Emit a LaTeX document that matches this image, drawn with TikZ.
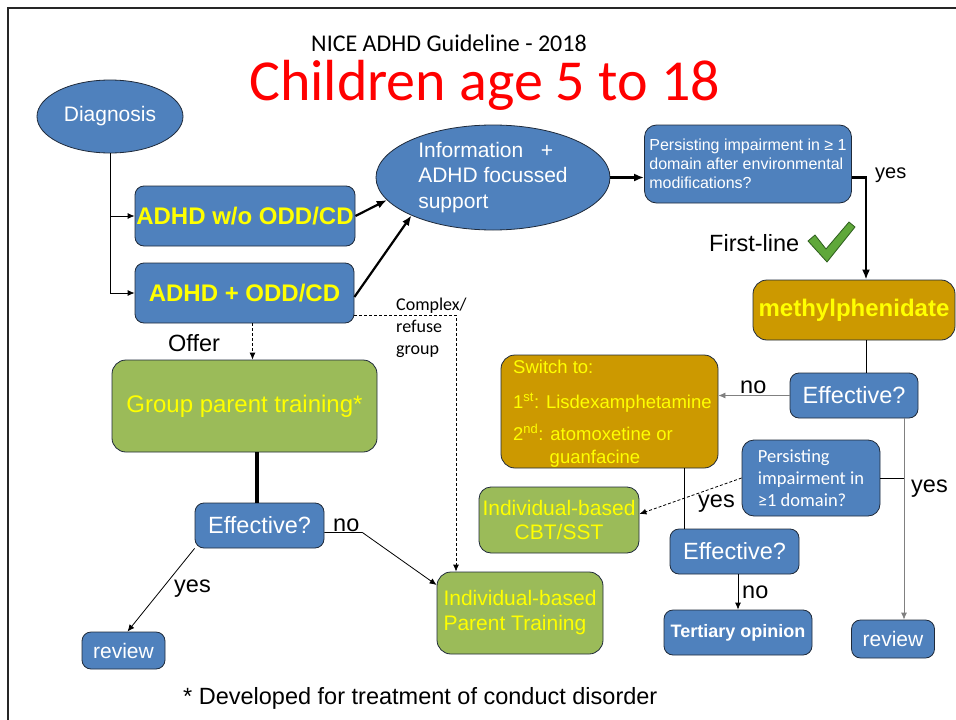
\documentclass[tikz,border=0pt]{standalone}
\usepackage{fontspec}
\setmainfont{Liberation Sans}
\newfontfamily\calibri{Carlito}
\usetikzlibrary{arrows.meta,shapes.geometric}

\definecolor{boxblue}{HTML}{4F81BD}
\definecolor{boxgreen}{HTML}{9BBB59}
\definecolor{boxgold}{HTML}{CC9900}
\definecolor{txtyellow}{HTML}{FFFF00}
\definecolor{edgedark}{HTML}{1F2A3A}
\definecolor{chkgreen}{HTML}{5FA83A}
\definecolor{chkdark}{HTML}{2E5E1E}

\begin{document}
\begin{tikzpicture}[
    x=1pt, y=-1pt, % one unit = one pixel of the slide, y downwards
    >={Latex[length=7pt,width=6pt]}, % default arrow tip
    card/.style={draw=edgedark, line width=0.8pt, rounded corners=9pt, inner sep=0pt},
    bluebox/.style={card, fill=boxblue, text=white},
    greenbox/.style={card, fill=boxgreen, text=txtyellow, rounded corners=14pt},
    goldbox/.style={card, fill=boxgold, text=txtyellow, rounded corners=14pt},
    oval/.style={ellipse, draw=edgedark, line width=0.8pt, fill=boxblue, text=white, inner sep=0pt},
    lbl/.style={anchor=base west, inner sep=0pt, font=\fontsize{23.5}{28}\selectfont},
    link/.style={line width=0.8pt},
    boldlink/.style={line width=2.2pt, >={Latex[length=10pt,width=8pt]}},
    dashlink/.style={line width=0.8pt, dash pattern=on 3pt off 2pt}
]
    \useasboundingbox (0,0) rectangle (956,720);

    % Slide frame
    \draw[line width=2pt, black!85] (8,720) -- (8,8) -- (956,8);

    % Titles
    \node[anchor=base, inner sep=0pt, font=\calibri\fontsize{24}{28}\selectfont] (guide) at (449,51) {NICE ADHD Guideline - 2018};
    \node[anchor=base, inner sep=0pt, text=red, font=\calibri\fontsize{58}{64}\selectfont] (title) at (484.5,100) {Children age 5 to 18};

    % Diagnosis and the two groups
    \node[oval, minimum width=146, minimum height=73, font=\fontsize{21}{25}\selectfont] (diag) at (110,116.5) {Diagnosis};
    \node[bluebox, minimum width=220, minimum height=60, text=txtyellow, font=\bfseries\fontsize{24}{28}\selectfont] (wo) at (245,216) {ADHD w/o ODD/CD};
    \node[bluebox, minimum width=219, minimum height=60, text=txtyellow, font=\bfseries\fontsize{24}{28}\selectfont] (wodd) at (244.5,293) {\raisebox{-5pt}{ADHD + ODD/CD}};

    % Information and first question
    \node[oval, minimum width=234, minimum height=105, align=left, font=\fontsize{21}{25.5}\selectfont] (info) at (493,177.5) {Information\ \ \ +\\ADHD focussed\\support};
    \node[bluebox, rounded corners=12pt, minimum width=207, minimum height=78, align=left, font=\fontsize{16}{19}\selectfont] (pers) at (748,164) {Persisting impairment in ≥ 1\\domain after environmental\\modifications?};
    \node[lbl, font=\fontsize{20}{24}\selectfont] (yes1) at (875,178) {yes};
    \node[lbl] (first) at (709,251) {First-line};
    \filldraw[fill=chkgreen, draw=chkdark, line width=0.8pt, line join=round]
        (808,241) -- (815,235) -- (826,249) -- (849,222) -- (855,227) -- (827,262) -- cycle;

    % Medication branch
    \node[goldbox, minimum width=202, minimum height=60, font=\bfseries\fontsize{24}{28}\selectfont] (methyl) at (854,310) {methylphenidate};
    \node[bluebox, minimum width=128, minimum height=45, font=\fontsize{23.5}{28}\selectfont] (eff1) at (854,395.5) {Effective?};
    \node[goldbox, minimum width=217, minimum height=113] (switch) at (609.5,411.5) {};
    \node[anchor=base west, inner sep=0pt, text=txtyellow, font=\fontsize{18.5}{22}\selectfont] (sw0) at (513,373) {Switch to:};
    \node[anchor=base west, inner sep=0pt, text=txtyellow, font=\fontsize{18.5}{22}\selectfont] (sw1) at (513,408) {1\textsuperscript{st}: Lisdexamphetamine};
    \node[anchor=base west, inner sep=0pt, text=txtyellow, font=\fontsize{18.5}{22}\selectfont] (sw2) at (513,440) {2\textsuperscript{nd}: atomoxetine or};
    \node[anchor=base, inner sep=0pt, text=txtyellow, font=\fontsize{18.5}{22}\selectfont] (sw3) at (595,463) {guanfacine};
    \node[lbl] (no1) at (740,393) {no};
    \node[bluebox, rounded corners=12pt, minimum width=138, minimum height=76, align=left, font=\calibri\fontsize{18.5}{22}\selectfont] (pers2) at (811,478) {Persisting\\impairment in\\≥1 domain?};
    \node[greenbox, rounded corners=12pt, minimum width=160, minimum height=66, align=center, font=\fontsize{21}{24}\selectfont] (cbt) at (559,520) {Individual-based\\CBT/SST};
    \node[lbl] (yes3) at (698,507) {yes};
    \node[lbl] (yes2) at (911,492) {yes};
    \node[bluebox, minimum width=129, minimum height=45, font=\fontsize{23.5}{28}\selectfont] (eff2) at (734.5,551.5) {Effective?};
    \node[lbl] (no2) at (742,598) {no};
    \node[bluebox, minimum width=148, minimum height=45, font=\bfseries\fontsize{18}{22}\selectfont] (tert) at (738,632.5) {Tertiary opinion};
    \node[bluebox, minimum width=83, minimum height=38, font=\fontsize{21}{25}\selectfont] (review2) at (893,639) {review};

    % Parent training branch
    \node[lbl] (offer) at (168,351) {Offer};
    \node[anchor=north west, inner sep=0pt, align=left, font=\calibri\fontsize{18}{22}\selectfont] (cplx) at (396,298) {Complex/\\refuse\\group};
    \node[greenbox, minimum width=265, minimum height=92, font=\fontsize{24}{28}\selectfont] (gpt) at (244.5,406) {Group parent training*};
    \node[bluebox, minimum width=129, minimum height=45, font=\fontsize{23.5}{28}\selectfont] (eff3) at (259.5,525.5) {Effective?};
    \node[lbl] (no3) at (333,531) {no};
    \node[lbl] (yes4) at (174,592) {yes};
    \node[bluebox, minimum width=83, minimum height=37, font=\fontsize{21}{25}\selectfont] (review1) at (123.5,650.5) {review};
    \node[greenbox, minimum width=166, minimum height=82, align=left, font=\fontsize{21}{25}\selectfont] (ibpt) at (520,613) {Individual-based\\Parent Training};

    % Footnote
    \node[lbl] (foot) at (183,704) {* Developed for treatment of conduct disorder};

    % Connectors, top part
    \draw[link,->] (diag.south) |- (wo.west);
    \draw[link,->] (diag.south) |- (wodd.west);
    \draw[boldlink,->] (wo.east) -- (info.192);
    \draw[boldlink,->] ([yshift=-4pt]wodd.east) -- (info.205);
    \draw[boldlink,->] (info.east) -- (info.east -| pers.west);
    \draw[boldlink,->] (info.east -| pers.east) -| ([xshift=12pt]methyl.north);

    % Connectors, medication
    \draw[link] ([xshift=12pt]methyl.south) -- ([xshift=12pt]methyl.south |- eff1.north);
    \draw[link, draw=gray,->] (eff1.west) -- (eff1.west -| switch.east);
    \coordinate (yesx) at ([xshift=50pt]eff1.south);
    \draw[link, draw=gray,->] (yesx) -- (yesx |- review2.north);
    \draw[link] (pers2.east) -- (pers2.east -| yesx);
    \draw[dashlink,->] (pers2.west) -- ([yshift=6pt]cbt.east);
    \coordinate (swx) at ([xshift=-50pt]eff2.north);
    \draw[link] (swx |- switch.south) -- (swx);
    \draw[link,->] (tert.north |- eff2.south) -- (tert.north);

    % Connectors, parent training
    \draw[dashlink,->] ([xshift=8pt]wodd.south) -- ([xshift=8pt]wodd.south |- gpt.north);
    \draw[dashlink,->] ([yshift=-22pt]wodd.east) -| ([xshift=-64pt]ibpt.north);
    \draw[line width=4pt] ([xshift=-3pt]eff3.north |- gpt.south) -- ([xshift=-3pt]eff3.north);
    \draw[link,->] ([yshift=-7pt]eff3.east) -- ++(38,0) -- ([yshift=28pt]ibpt.west);
    \draw[link,->] (eff3.south west) -- ([xshift=4pt]review1.north);

\end{tikzpicture}
\end{document}
